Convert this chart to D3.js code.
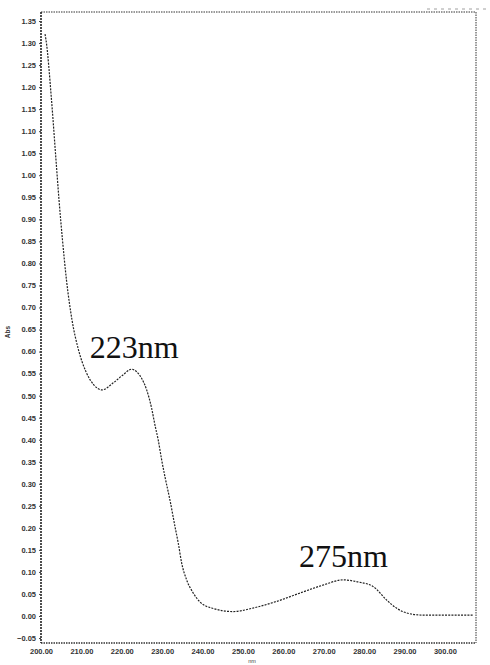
<!DOCTYPE html>
<html>
<head>
<meta charset="utf-8">
<script src="https://cdn.jsdelivr.net/npm/d3@7"></script>
<style>
  html, body { margin: 0; padding: 0; background: #fff; }
  svg { display: block; }
  .tick text { font-family: "Liberation Sans", Arial, sans-serif; fill: #333; }
</style>
</head>
<body>
<svg id="chart" width="490" height="665"></svg>
<script>
// UV absorption spectrum: wavelength (nm) vs absorbance
const wavelength = [201.0, 201.24, 202.60, 203.71, 204.46, 205.32, 206.31, 207.67, 209.28, 211.14,
  213.12, 215.10, 217.9, 220.3, 222.45, 223.69, 224.93, 226.16, 227.40, 228.22,
  229.03, 229.88, 230.69, 231.93, 233.17, 233.99, 234.83, 236.06, 237.70, 239.36,
  242.65, 247.60, 252.48, 258.3, 264.1, 269.8, 274.8, 278.1, 282.2, 285.6,
  288.0, 290.5, 294.6, 300.0, 306.9];
const absorbance = [1.320, 1.307, 1.171, 1.035, 0.944, 0.853, 0.762, 0.672, 0.604, 0.554,
  0.524, 0.513, 0.529, 0.547, 0.560, 0.554, 0.539, 0.513, 0.471, 0.433,
  0.399, 0.354, 0.316, 0.263, 0.203, 0.165, 0.120, 0.082, 0.052, 0.032,
  0.017, 0.010, 0.018, 0.033, 0.052, 0.070, 0.082, 0.078, 0.067, 0.036,
  0.018, 0.007, 0.002, 0.002, 0.002];

const xTicks = [200, 210, 220, 230, 240, 250, 260, 270, 280, 290, 300];
const yTicks = [-0.05, 0.00, 0.05, 0.10, 0.15, 0.20, 0.25, 0.30, 0.35, 0.40, 0.45, 0.50,
  0.55, 0.60, 0.65, 0.70, 0.75, 0.80, 0.85, 0.90, 0.95, 1.00, 1.05, 1.10, 1.15,
  1.20, 1.25, 1.30, 1.35];

const peakLabels = ["223nm", "275nm"];
const peakWavelength = [222.45, 274.8];

const svg = d3.select("#chart");
const plotLeft = 41, plotRight = 476, plotTop = 12, plotBottom = 643;

const x = d3.scaleLinear().domain([200, 307.7]).range([plotLeft, plotRight]);
const y = d3.scaleLinear().domain([0, 1.35]).range([616, 21]);

// frame
const frame = svg.append("g")
  .attr("fill", "none")
  .attr("stroke", "#333")
  .attr("stroke-dasharray", "1.5,1");
frame.append("line").attr("x1", plotLeft).attr("x2", plotRight).attr("y1", plotTop).attr("y2", plotTop);
frame.append("line").attr("x1", plotRight).attr("x2", plotRight).attr("y1", plotTop).attr("y2", plotBottom);
frame.append("line").attr("x1", plotLeft).attr("x2", plotRight).attr("y1", plotBottom).attr("y2", plotBottom)
  .attr("stroke-width", 1.3);

// short dotted line above the frame at the top right
svg.append("line")
  .attr("x1", 427).attr("x2", 490).attr("y1", 9).attr("y2", 9)
  .attr("stroke", "#888").attr("stroke-dasharray", "3,4").attr("stroke-width", 0.8);

// y axis
const yAxis = svg.append("g")
  .attr("transform", `translate(${plotLeft},0)`)
  .call(d3.axisLeft(y).tickValues(yTicks).tickSize(2).tickPadding(3)
    .tickFormat(d3.format(".2f")));
yAxis.select(".domain").attr("stroke", "#222").attr("stroke-width", 1.6)
  .attr("stroke-dasharray", "2,1")
  .attr("d", `M0,${plotTop}V${plotBottom}`);
yAxis.selectAll(".tick line").attr("stroke", "#444");
yAxis.selectAll(".tick text").attr("font-size", 7.5).attr("font-weight", "bold");

// x axis
const xAxis = svg.append("g")
  .attr("transform", `translate(0,${plotBottom})`)
  .call(d3.axisBottom(x).tickValues(xTicks).tickSize(0).tickPadding(6)
    .tickFormat(d3.format(".2f")));
xAxis.select(".domain").remove();
xAxis.selectAll(".tick text").attr("font-size", 7.5).attr("font-weight", "bold");

// axis titles
svg.append("text")
  .attr("transform", "translate(10,332) rotate(-90)")
  .attr("text-anchor", "middle")
  .attr("font-family", "Liberation Sans, Arial, sans-serif")
  .attr("font-size", 6.5).attr("font-weight", "bold").attr("fill", "#333")
  .text("Abs");
svg.append("text")
  .attr("x", 252).attr("y", 663)
  .attr("text-anchor", "middle")
  .attr("font-family", "Liberation Sans, Arial, sans-serif")
  .attr("font-size", 5.5).attr("fill", "#444")
  .text("nm");

// spectrum
const data = wavelength.map((w, i) => ({ w, a: absorbance[i] }));
svg.append("path")
  .datum(data)
  .attr("fill", "none")
  .attr("stroke", "#222")
  .attr("stroke-width", 1.2)
  .attr("stroke-dasharray", "2,1.2")
  .attr("d", d3.line().x(d => x(d.w)).y(d => y(d.a)).curve(d3.curveMonotoneX));

// peak annotations
const labelDx = [-42, -44];
const labelDy = [-11, -13];
peakLabels.forEach((t, i) => {
  const j = wavelength.indexOf(peakWavelength[i]);
  svg.append("text")
    .attr("x", x(peakWavelength[i]) + labelDx[i])
    .attr("y", y(absorbance[j]) + labelDy[i])
    .attr("font-family", "Liberation Serif, 'Times New Roman', serif")
    .attr("font-size", 32)
    .attr("fill", "#111")
    .text(t);
});
</script>
</body>
</html>
